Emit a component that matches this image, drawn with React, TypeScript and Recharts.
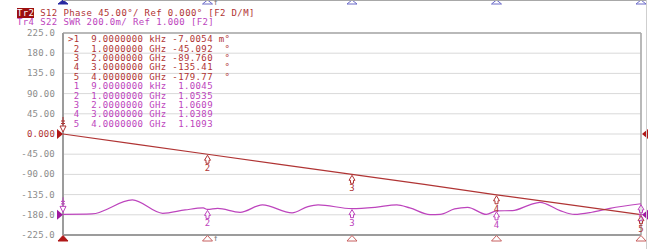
import React from "react";
import {
  CartesianGrid,
  ComposedChart,
  Line,
  ReferenceDot,
  ReferenceLine,
  XAxis,
  YAxis,
} from "recharts";

// S12 phase trace (GHz, degrees)
const phaseFreq = [0.000009, 0.5, 1, 1.5, 2, 2.5, 3, 3.5, 4];
const phaseDeg = [-0.007, -22.4, -45.092, -67.5, -89.76, -112.3, -135.41, -157.5, -179.77];

// S22 SWR trace (GHz, ratio)
const swrFreq = [
  0.000009, 0.2, 0.48, 0.69, 0.845, 0.97, 1.0, 1.07, 1.225, 1.38, 1.585, 1.695, 1.765, 2.0, 2.16,
  2.31, 2.4, 2.54, 2.61, 2.71, 2.8, 2.93, 3.0, 3.11, 3.23, 3.3, 3.44, 3.54, 3.66, 3.785, 4.0,
];
const swrValue = [
  1.0045, 1.009, 1.147, 1.015, 1.048, 1.068, 1.0535, 1.064, 1.025, 1.098, 1.019, 1.081, 1.098,
  1.0609, 1.074, 1.098, 1.068, 1.002, 1.004, 1.058, 1.074, 1.004, 1.0389, 1.041, 1.098, 1.124,
  1.041, 1.004, 1.025, 1.064, 1.1093,
];

// markers
const markerFreq = [0.000009, 1, 2, 3, 4];
const markerFreqText = ["9.0000000 kHz", "1.0000000 GHz", "2.0000000 GHz", "3.0000000 GHz", "4.0000000 GHz"];
const phaseMarkers = [-0.0070054, -45.092, -89.76, -135.41, -179.77];
const phaseMarkerText = ["-7.0054 m°", "-45.092  °", "-89.760  °", "-135.41  °", "-179.77  °"];
const swrMarkers = [1.0045, 1.0535, 1.0609, 1.0389, 1.1093];
const swrMarkerText = ["1.0045", "1.0535", "1.0609", "1.0389", "1.1093"];

const phaseTicks = [225, 180, 135, 90, 45, 0, -45, -90, -135, -180, -225];
const freqTicks = [0, 0.4, 0.8, 1.2, 1.6, 2, 2.4, 2.8, 3.2, 3.6, 4];

const phaseData = phaseFreq.map((f, i) => ({ f, v: phaseDeg[i] }));
const swrData = swrFreq.map((f, i) => ({ f, v: swrValue[i] }));

const RED = "#b03434";
const PURPLE = "#bd44bd";
const MONO = "'DejaVu Sans Mono', 'Liberation Mono', monospace";
const FS = 9;

const fmtTick = (v: number) => {
  if (v === 0) return "0.000";
  if (Math.abs(v) >= 100) return v.toFixed(1);
  return v.toFixed(2);
};

const PhaseTick = (props: any) => {
  const { x, y, payload } = props;
  return (
    <text x={x} y={y} textAnchor="end" dominantBaseline="central" fontFamily={MONO} fontSize={FS}
      letterSpacing={0.2} fill={payload.value === 0 ? RED : "#8c8c8c"}>
      {fmtTick(payload.value)}
    </text>
  );
};

const markerGlyph = (color: string, label: string) => (p: any) => {
  const { cx, cy } = p;
  const path = `M${cx},${cy + 1} L${cx - 3},${cy + 6} L${cx - 1.5},${cy + 6} L${cx - 1.5},${cy + 9} L${cx + 1.5},${cy + 9} L${cx + 1.5},${cy + 6} L${cx + 3},${cy + 6} Z`;
  return (
    <g>
      <path d={path} fill="#fff" fillOpacity={0.6} stroke={color} strokeWidth={1} />
      <text x={cx} y={cy + 14} textAnchor="middle" dominantBaseline="central" fontFamily={MONO} fontSize={FS} fill={color}>
        {label}
      </text>
    </g>
  );
};

const activeGlyph = (color: string) => (p: any) => {
  const { cx, cy } = p;
  return (
    <g stroke={color} strokeWidth={1} fill="none">
      <line x1={cx} y1={cy - 17} x2={cx} y2={cy - 9} />
      <line x1={cx - 2} y1={cy - 13} x2={cx + 2} y2={cy - 13} />
      <line x1={cx - 2} y1={cy - 10.5} x2={cx + 2} y2={cy - 10.5} />
      <path d={`M${cx - 3},${cy - 8} L${cx + 3},${cy - 8} L${cx},${cy - 2} Z`} fill="#fff" />
    </g>
  );
};

const refRight = (color: string) => (p: any) => (
  <polygon points={`${p.cx - 6},${p.cy - 5} ${p.cx},${p.cy} ${p.cx - 6},${p.cy + 5}`} fill={color} />
);
const refLeft = (color: string) => (p: any) => (
  <polygon points={`${p.cx + 7},${p.cy - 5} ${p.cx + 1},${p.cy} ${p.cx + 7},${p.cy + 5}`} fill={color} />
);
const stimTri = (filled: boolean) => (p: any) => (
  <polygon points={`${p.cx},${p.cy + 0.5} ${p.cx - 5},${p.cy + 6} ${p.cx + 5},${p.cy + 6}`}
    fill={filled ? "#b01818" : "#fff"} stroke={filled ? "#b01818" : "#c86060"} strokeWidth={1} />
);
const prevTri = (filled: boolean) => (p: any) => (
  <polygon points={`${p.cx},${p.cy - 33} ${p.cx - 5},${p.cy - 29} ${p.cx + 5},${p.cy - 29}`}
    fill={filled ? "#2828a0" : "#fff"} stroke={filled ? "#2828a0" : "#6a6ac8"} strokeWidth={1} />
);

const tableRows = [
  ...markerFreqText.map((t, i) => ({ text: `${i === 0 ? ">" : " "}${i + 1}  ${t} ${phaseMarkerText[i]}`, color: RED })),
  ...markerFreqText.map((t, i) => ({ text: ` ${i + 1}  ${t}  ${swrMarkerText[i]}`, color: PURPLE })),
];

const textBox: React.CSSProperties = { fontFamily: MONO, fontSize: FS, letterSpacing: 0.38, whiteSpace: "pre" };

export default function App() {
  return (
    <div style={{ position: "relative", width: 650, height: 249, background: "#fff", overflow: "hidden" }}>
      <style>{`body{margin:0}`}</style>
      <ComposedChart width={650} height={249} margin={{ top: 33, right: 9, bottom: 13, left: 0 }}>
        <CartesianGrid yAxisId="phase" stroke="#d9d9d9" strokeWidth={1} />
        <XAxis dataKey="f" type="number" domain={[0, 4]} ticks={freqTicks} interval={0} allowDataOverflow
          tick={false} axisLine={false} tickLine={false} height={1} />
        <YAxis yAxisId="phase" type="number" domain={[-225, 225]} ticks={phaseTicks} interval={0}
          allowDataOverflow width={63} axisLine={false} tickLine={false} tickSize={6} tickMargin={2} tick={<PhaseTick />} />
        <YAxis yAxisId="swr" type="number" domain={[0.8, 2.8]} hide allowDataOverflow />
        <ReferenceLine yAxisId="phase" y={225} stroke="#a8a8a8" strokeWidth={1.5} />
        <ReferenceLine yAxisId="phase" y={-225} stroke="#9c9c9c" strokeWidth={2} />
        <ReferenceLine yAxisId="phase" x={0} stroke="#9c9c9c" strokeWidth={2} />
        <ReferenceLine yAxisId="phase" x={4} stroke="#a8a8a8" strokeWidth={1.5} />
        <Line yAxisId="swr" data={swrData} dataKey="v" type="monotone" stroke={PURPLE} strokeWidth={1.2}
          dot={false} activeDot={false} isAnimationActive={false} />
        <Line yAxisId="phase" data={phaseData} dataKey="v" type="linear" stroke={RED} strokeWidth={1.2}
          dot={false} activeDot={false} isAnimationActive={false} />
        {markerFreq.map((f, i) => (
          <ReferenceDot key={`pm${i}`} yAxisId="phase" x={f} y={phaseMarkers[i]} ifOverflow="visible"
            shape={i === 0 ? activeGlyph(RED) : markerGlyph(RED, String(i + 1))} />
        ))}
        {markerFreq.map((f, i) => (
          <ReferenceDot key={`sm${i}`} yAxisId="swr" x={f} y={swrMarkers[i]} ifOverflow="visible"
            shape={i === 0 ? activeGlyph(PURPLE) : markerGlyph(PURPLE, String(i + 1))} />
        ))}
        <ReferenceDot yAxisId="phase" x={0} y={0} ifOverflow="visible" shape={refRight("#b01818")} />
        <ReferenceDot yAxisId="swr" x={0} y={1} ifOverflow="visible" shape={refRight("#a01aa0")} />
        <ReferenceDot yAxisId="phase" x={4} y={0} ifOverflow="visible" shape={refLeft("#b01818")} />
        <ReferenceDot yAxisId="swr" x={4} y={1} ifOverflow="visible" shape={refLeft("#a01aa0")} />
        {markerFreq.map((f, i) => (
          <ReferenceDot key={`st${i}`} yAxisId="phase" x={f} y={-225} ifOverflow="visible" shape={stimTri(i === 0)} />
        ))}
        {markerFreq.map((f, i) => (
          <ReferenceDot key={`pv${i}`} yAxisId="phase" x={f} y={225} ifOverflow="visible" shape={prevTri(i === 0)} />
        ))}
      </ComposedChart>

      {/* remains of the panel above */}
      <div style={{ position: "absolute", left: 63, right: 3, top: 0, height: 1, background: "#a8a8a8" }} />
      <div style={{ position: "absolute", left: 646, top: 0, width: 1, height: 249, background: "#cfcfcf" }} />
      <div style={{ position: "absolute", left: 20, top: -8, ...textBox, color: "#8c8c8c" }}>600.0m</div>
      <div style={{ position: "absolute", left: 213, top: -3, fontFamily: MONO, fontSize: 9, color: "#777" }}>↑</div>
      <div style={{ position: "absolute", left: 213, top: 233, fontFamily: MONO, fontSize: 9, color: "#777" }}>↑</div>

      {/* trace headers */}
      <div style={{ position: "absolute", left: 17, top: 8.5, ...textBox, lineHeight: "9px" }}>
        <div style={{ color: RED, height: 9 }}>
          <span style={{ background: "#9c1010", color: "#fff" }}>Tr2</span> S12 Phase 45.00°/ Ref 0.000° [F2 D/M]
        </div>
        <div style={{ color: PURPLE, height: 9 }}>Tr4 S22 SWR 200.0m/ Ref 1.000 [F2]</div>
      </div>

      {/* marker table */}
      <div style={{ position: "absolute", left: 68, top: 35.3, ...textBox, lineHeight: "9.4px" }}>
        {tableRows.map((r, i) => (
          <div key={i} style={{ color: r.color, height: 9.4 }}>{r.text}</div>
        ))}
      </div>
    </div>
  );
}
